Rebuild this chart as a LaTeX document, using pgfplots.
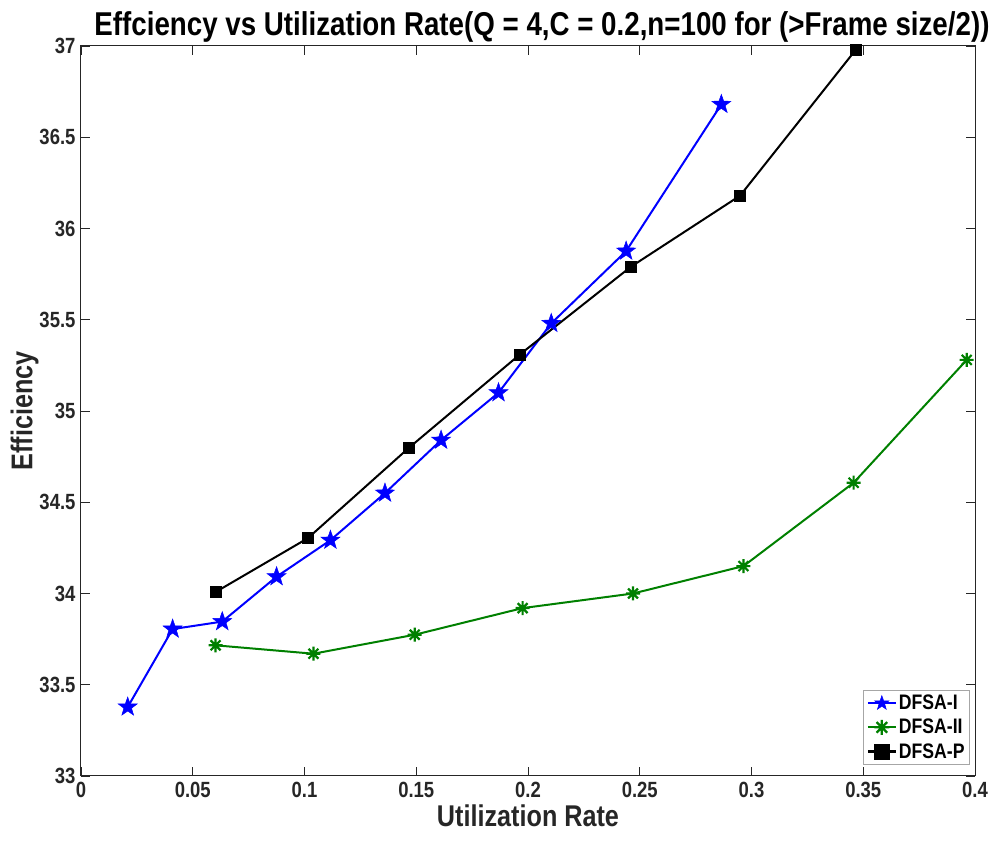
\documentclass[border=0pt]{standalone}
\usepackage{fontspec}
\setmainfont{Liberation Sans}[FakeStretch=0.84]
\usepackage{pgfplots}
\pgfplotsset{compat=1.18}
\definecolor{axgray}{RGB}{38,38,38}
\definecolor{mgreen}{RGB}{0,128,0}

% filled five-pointed star (MATLAB pentagram)
\pgfdeclareplotmark{pentagram}{%
  \pgfpathmoveto{\pgfpointpolar{90}{\pgfplotmarksize}}%
  \pgfpathlineto{\pgfpointpolar{126}{0.40*\pgfplotmarksize}}%
  \pgfpathlineto{\pgfpointpolar{162}{\pgfplotmarksize}}%
  \pgfpathlineto{\pgfpointpolar{198}{0.40*\pgfplotmarksize}}%
  \pgfpathlineto{\pgfpointpolar{234}{\pgfplotmarksize}}%
  \pgfpathlineto{\pgfpointpolar{270}{0.40*\pgfplotmarksize}}%
  \pgfpathlineto{\pgfpointpolar{306}{\pgfplotmarksize}}%
  \pgfpathlineto{\pgfpointpolar{342}{0.40*\pgfplotmarksize}}%
  \pgfpathlineto{\pgfpointpolar{18}{\pgfplotmarksize}}%
  \pgfpathlineto{\pgfpointpolar{54}{0.40*\pgfplotmarksize}}%
  \pgfpathclose
  \pgfusepathqfillstroke}
% eight-armed asterisk (MATLAB '*')
\pgfdeclareplotmark{mstar}{%
  \pgfpathmoveto{\pgfqpoint{0pt}{\pgfplotmarksize}}%
  \pgfpathlineto{\pgfqpoint{0pt}{-\pgfplotmarksize}}%
  \pgfpathmoveto{\pgfqpoint{\pgfplotmarksize}{0pt}}%
  \pgfpathlineto{\pgfqpoint{-\pgfplotmarksize}{0pt}}%
  \pgfpathmoveto{\pgfpointpolar{45}{\pgfplotmarksize}}%
  \pgfpathlineto{\pgfpointpolar{225}{\pgfplotmarksize}}%
  \pgfpathmoveto{\pgfpointpolar{135}{\pgfplotmarksize}}%
  \pgfpathlineto{\pgfpointpolar{315}{\pgfplotmarksize}}%
  \pgfusepathqstroke}

\begin{document}
\begin{tikzpicture}
\begin{axis}[
  scale only axis,
  width=894pt, height=730pt,
  xmin=0, xmax=0.4, ymin=33, ymax=37,
  xtick={0,0.05,...,0.4},
  ytick={33,33.5,...,37},
  xticklabels={0,0.05,0.1,0.15,0.2,0.25,0.3,0.35,0.4},
  yticklabels={33,33.5,34,34.5,35,35.5,36,36.5,37},
  tick align=inside,
  major tick length=9pt,
  tick style={axgray, line width=0.8pt},
  axis line style={axgray, line width=1pt},
  ticklabel style={font=\fontsize{22}{22}\selectfont\bfseries, text=axgray},
  /pgf/number format/assume math mode=true,
  xticklabel style={yshift=-3pt},
  yticklabel style={xshift=-2pt},
  title={Effciency vs Utilization Rate(Q = 4,C = 0.2,n=100 for (>Frame size/2))},
  title style={font=\fontsize{33}{33}\selectfont\bfseries, yshift=-6pt, xshift=14pt},
  xlabel={Utilization Rate},
  ylabel={Efficiency},
  label style={font=\fontsize{30}{30}\selectfont\bfseries, text=axgray},
  xlabel style={yshift=0pt},
  ylabel style={yshift=-6pt},
  legend style={at={(1,0)}, anchor=south east, xshift=-5pt, yshift=11pt,
    font=\fontsize{21}{23}\selectfont\bfseries, draw=gray!70,
    line width=0.8pt, inner sep=3pt, row sep=4pt},
  legend cell align=left,
  legend image code/.code={%
    \draw[mark repeat=2, mark phase=2, #1, line width=2.2pt, mark size=7.5pt]
      plot coordinates {(0pt,0pt) (14pt,0pt) (28pt,0pt)};},
]
\addplot[blue, line width=2pt, mark=pentagram, mark size=10pt,
  mark options={line width=0.5pt, fill=blue}] coordinates {
  (0.0209,33.378) (0.0410,33.805) (0.0632,33.846) (0.0875,34.092)
  (0.1116,34.292) (0.1360,34.550) (0.1611,34.840) (0.1868,35.100)
  (0.2104,35.480) (0.2439,35.876) (0.2865,36.680)
};
\addlegendentry{DFSA-I}
\addplot[mgreen, line width=2pt, mark=mstar, mark size=7pt,
  mark options={line width=2.2pt}] coordinates {
  (0.0602,33.716) (0.1040,33.670) (0.1493,33.774) (0.1976,33.920)
  (0.2470,34.000) (0.2964,34.150) (0.3457,34.607) (0.3963,35.280)
};
\addlegendentry{DFSA-II}
\addplot[black, line width=2pt, mark=square*, mark size=5.5pt,
  mark options={line width=0.5pt}] coordinates {
  (0.0605,34.010) (0.1015,34.303) (0.1466,34.797) (0.1961,35.307)
  (0.2460,35.790) (0.2949,36.180) (0.3467,36.980)
};
\addlegendentry{DFSA-P}
\end{axis}
\pgfresetboundingbox
\path ([xshift=-81pt,yshift=-66pt]current axis.south west)
  rectangle ([xshift=20pt,yshift=46pt]current axis.north east);
\end{tikzpicture}
\end{document}
